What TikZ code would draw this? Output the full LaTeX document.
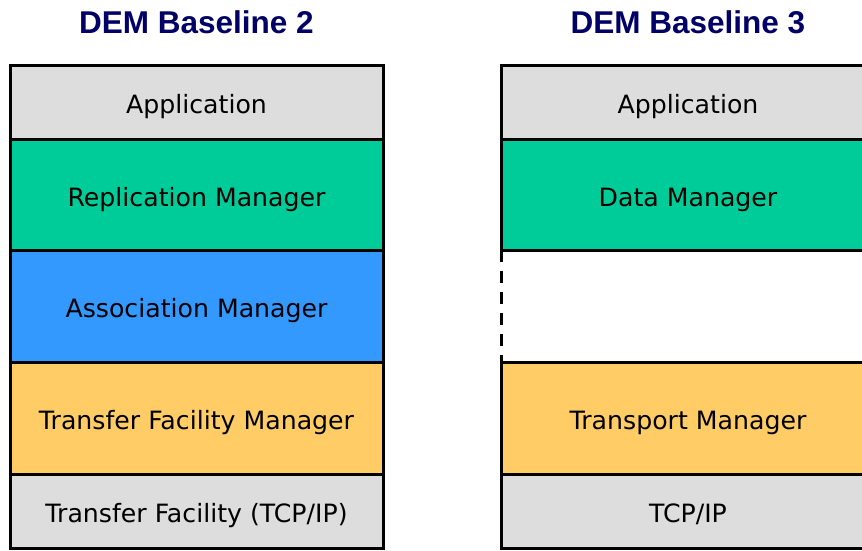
\documentclass[tikz,border=0pt]{standalone}
\usepackage{fontspec}
\setmainfont{DejaVu Sans}
\newfontfamily\titlefont{Liberation Sans}
\definecolor{layergray}{HTML}{DDDDDD}
\definecolor{layergreen}{HTML}{00CC99}
\definecolor{layerblue}{HTML}{3399FF}
\definecolor{layerorange}{HTML}{FFCC66}
\definecolor{titlenavy}{HTML}{000066}
\begin{document}
\begin{tikzpicture}[x=1pt,y=-1pt,
  layer/.style={draw=black, line width=3pt, rectangle, minimum width=373pt,
    inner sep=0pt, text height=29pt, text depth=6pt,
    font=\fontsize{25.2}{30}\selectfont, text=black},
  gap/.style={rectangle, minimum width=373pt, inner sep=0pt},
  stacktitle/.style={font=\titlefont\bfseries\fontsize{31.5}{36}\selectfont, text=titlenavy}]
\useasboundingbox (0,0) rectangle (862,550);
\clip (0,0) rectangle (862,550);

% Baseline 2 stack
\node[stacktitle] (t2) at (196.5,22) {DEM Baseline 2};
\node[layer, fill=layergray,   minimum height=74pt]  (l1) at (196.5,102) {Application};
\node[layer, fill=layergreen,  minimum height=111pt] (l2) at (196.5,194.5) {Replication Manager};
\node[layer, fill=layerblue,   minimum height=112pt] (l3) at (196.5,306) {Association Manager};
\node[layer, fill=layerorange, minimum height=112pt] (l4) at (196.5,418) {Transfer Facility Manager};
\node[layer, fill=layergray,   minimum height=74pt]  (l5) at (196.5,511) {Transfer Facility (TCP/IP)};

% Baseline 3 stack
\node[stacktitle] (t3) at (688,22) {DEM Baseline 3};
\node[layer, fill=layergray,   minimum height=74pt]  (r1) at (688,102) {Application};
\node[layer, fill=layergreen,  minimum height=111pt] (r2) at (688,194.5) {Data Manager};
\node[gap,                     minimum height=112pt] (r3) at (688,306) {};
\node[layer, fill=layerorange, minimum height=112pt] (r4) at (688,418) {Transport Manager};
\node[layer, fill=layergray,   minimum height=74pt]  (r5) at (688,511) {TCP/IP};
\draw[line width=3pt, dash pattern=on 12pt off 9pt] (r3.north west) -- (r3.south west);
\end{tikzpicture}
\end{document}
